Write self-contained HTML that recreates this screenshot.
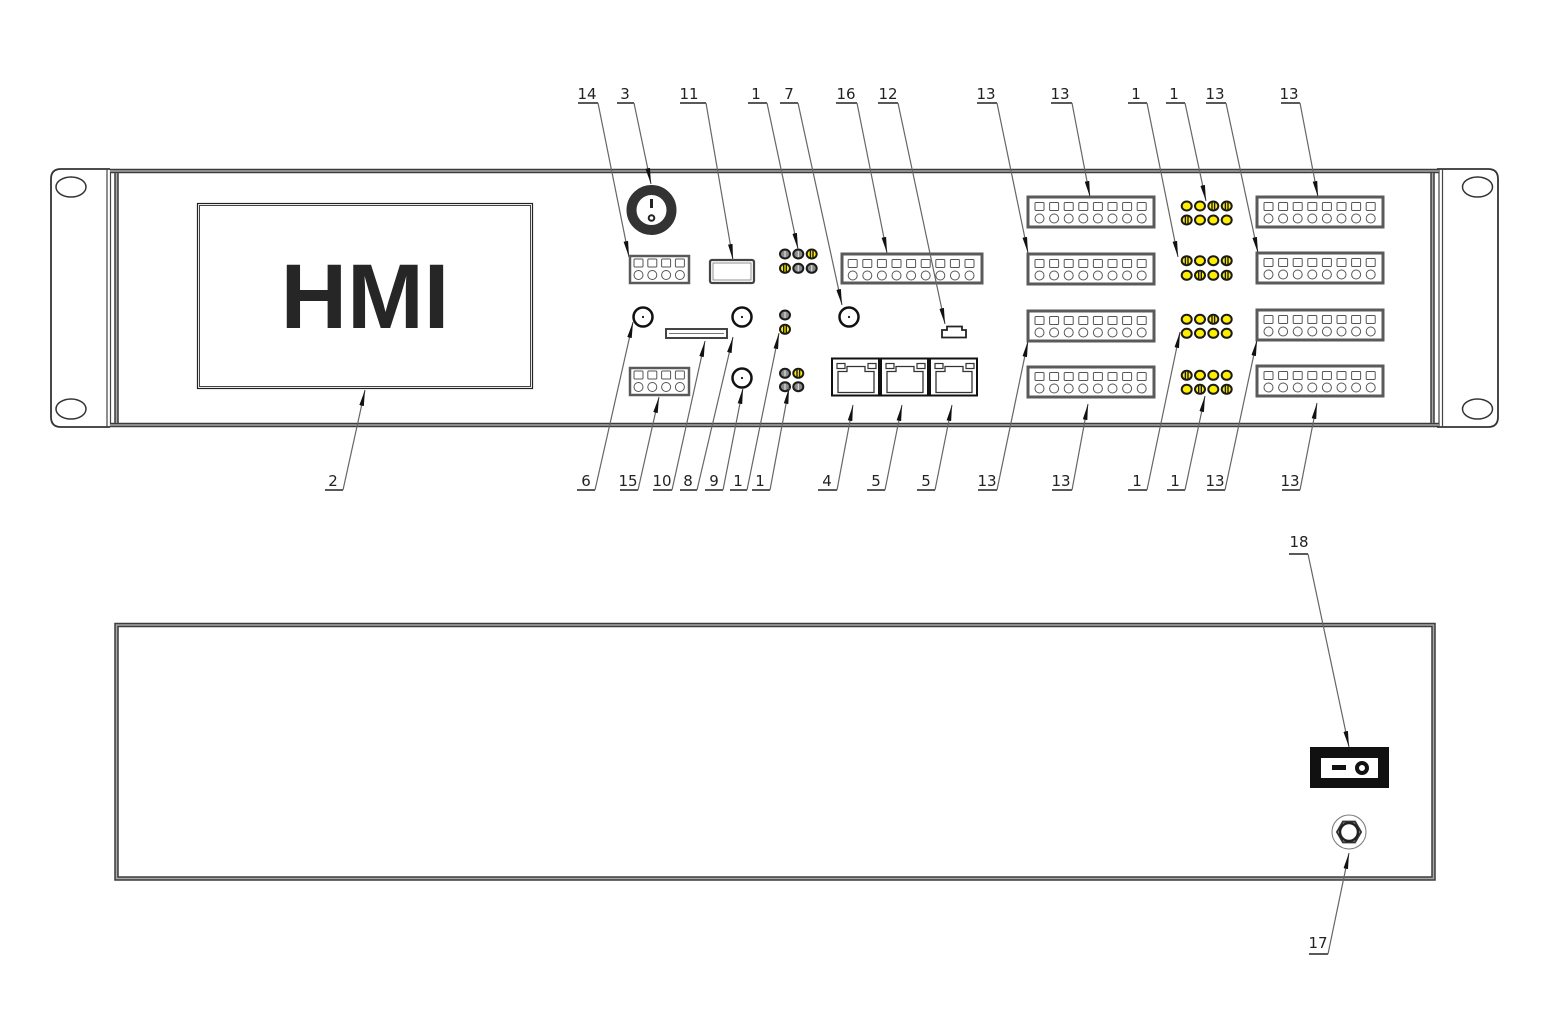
<!DOCTYPE html>
<html><head><meta charset="utf-8"><style>
html,body{margin:0;padding:0;background:#fff;}
svg{display:block;}
text{font-family:"DejaVu Sans","Liberation Sans",sans-serif;font-size:15px;fill:#222;}
</style></head><body>
<svg width="1548" height="1032" viewBox="0 0 1548 1032" xmlns="http://www.w3.org/2000/svg">
<defs>
<marker id="ar" markerUnits="userSpaceOnUse" markerWidth="17" markerHeight="6" refX="16" refY="3" orient="auto"><path d="M0,0.7 L16,3 L0,5.3 z" fill="#111"/></marker>
<g id="cell"><rect x="-4.5" y="5.5" width="9" height="8" rx="1" fill="#fff" stroke="#555" stroke-width="1"/><circle cx="0" cy="21.5" r="4.5" fill="#fff" stroke="#555" stroke-width="1"/></g>
<g id="t8"><rect x="0" y="0" width="126" height="30" fill="#fff" stroke="#5a5a5a" stroke-width="3"/>
<use href="#cell" x="11.5"/><use href="#cell" x="26.1"/><use href="#cell" x="40.7"/><use href="#cell" x="55.3"/><use href="#cell" x="69.9"/><use href="#cell" x="84.5"/><use href="#cell" x="99.1"/><use href="#cell" x="113.7"/></g>
<g id="t4"><rect x="0" y="0" width="59" height="27" fill="#fff" stroke="#5a5a5a" stroke-width="2.5"/>
<g transform="translate(0,-2.5)"><use href="#cell" x="8.5"/><use href="#cell" x="22.3"/><use href="#cell" x="36.1"/><use href="#cell" x="49.9"/></g></g>
<g id="rj"><rect x="0" y="0" width="47" height="37" fill="#fff" stroke="#111" stroke-width="2"/>
<rect x="5" y="5" width="8" height="5" fill="#fff" stroke="#333" stroke-width="1.2"/><rect x="36" y="5" width="8" height="5" fill="#fff" stroke="#333" stroke-width="1.2"/>
<path d="M6,13 H15 V8 H33 V13 H42 V34 H6 Z" fill="#fff" stroke="#333" stroke-width="1.3"/></g>
<g id="ly"><ellipse cx="0" cy="0" rx="5" ry="4.5" fill="#ffee00" stroke="#1a1a1a" stroke-width="2"/></g>
<g id="lys"><ellipse cx="0" cy="0" rx="5" ry="4.5" fill="#ffee00" stroke="#1a1a1a" stroke-width="2"/><line x1="-1.3" y1="-3.5" x2="-1.3" y2="3.5" stroke="#1a1a1a" stroke-width="1.4"/><line x1="1.3" y1="-3.5" x2="1.3" y2="3.5" stroke="#1a1a1a" stroke-width="1.4"/></g>
<g id="lg"><ellipse cx="0" cy="0" rx="5" ry="4.5" fill="#8a8a8a" stroke="#1a1a1a" stroke-width="2"/><line x1="0" y1="-3" x2="0" y2="3" stroke="#ddd" stroke-width="1.2"/></g>
<g id="bnc"><circle cx="0" cy="0" r="9.5" fill="#fff" stroke="#111" stroke-width="2.5"/><circle cx="0" cy="0" r="1.1" fill="#111"/></g>
</defs>

<!-- FRONT PANEL -->
<path d="M110,169 H61 Q51,169 51,179 V417 Q51,427 61,427 H110" fill="none" stroke="#333" stroke-width="1.8"/>
<path d="M1437,169 H1488 Q1498,169 1498,179 V417 Q1498,427 1488,427 H1437" fill="none" stroke="#333" stroke-width="1.8"/>
<ellipse cx="71" cy="187" rx="15" ry="10" fill="#fff" stroke="#333" stroke-width="1.5"/>
<ellipse cx="71" cy="409" rx="15" ry="10" fill="#fff" stroke="#333" stroke-width="1.5"/>
<ellipse cx="1477.5" cy="187" rx="15" ry="10" fill="#fff" stroke="#333" stroke-width="1.5"/>
<ellipse cx="1477.5" cy="409" rx="15" ry="10" fill="#fff" stroke="#333" stroke-width="1.5"/>
<line x1="107" y1="169" x2="107" y2="427" stroke="#444" stroke-width="1.2"/>
<line x1="110.5" y1="169" x2="110.5" y2="427" stroke="#444" stroke-width="1.2"/>
<line x1="1439" y1="169" x2="1439" y2="427" stroke="#444" stroke-width="1.2"/>
<line x1="1442.5" y1="169" x2="1442.5" y2="427" stroke="#444" stroke-width="1.2"/>
<g stroke="#3c3c3c" stroke-width="4.5" fill="none">
<line x1="110" y1="171" x2="1439" y2="171"/><line x1="110" y1="425" x2="1439" y2="425"/>
<line x1="116.5" y1="169" x2="116.5" y2="427"/><line x1="1432.5" y1="169" x2="1432.5" y2="427"/>
</g>
<g stroke="#a8a8a8" stroke-width="1.5" fill="none">
<line x1="110" y1="171" x2="1439" y2="171"/><line x1="110" y1="425" x2="1439" y2="425"/>
<line x1="116.5" y1="173" x2="116.5" y2="423"/><line x1="1432.5" y1="173" x2="1432.5" y2="423"/>
</g>

<!-- HMI -->
<rect x="197.5" y="203.5" width="335" height="185" fill="#fff" stroke="#222" stroke-width="1.2"/>
<rect x="199.5" y="205.5" width="331" height="181" fill="none" stroke="#444" stroke-width="1"/>
<text x="365" y="328" text-anchor="middle" style="font-family:'Liberation Sans',Arial,sans-serif;font-weight:bold;font-size:92px;fill:#262626;">HMI</text>

<!-- knob 3 -->
<circle cx="651.5" cy="210" r="20" fill="#fff" stroke="#333" stroke-width="10"/>
<rect x="650" y="199" width="3" height="9" fill="#222"/>
<circle cx="651.5" cy="218" r="2.8" fill="#fff" stroke="#222" stroke-width="2"/>

<use href="#t4" x="630" y="256"/>
<use href="#t4" x="630" y="368"/>

<rect x="710" y="260" width="44" height="23" rx="2" fill="#fff" stroke="#444" stroke-width="2.2"/>
<rect x="713" y="263" width="38" height="17" fill="none" stroke="#777" stroke-width="0.8"/>
<rect x="666" y="329" width="61" height="9" fill="#fff" stroke="#444" stroke-width="2"/>
<line x1="669" y1="333.5" x2="724" y2="333.5" stroke="#777" stroke-width="1"/>

<use href="#bnc" x="643" y="317"/>
<use href="#bnc" x="742" y="317"/>
<use href="#bnc" x="742" y="378"/>
<use href="#bnc" x="849" y="317"/>

<use href="#lg" x="785" y="254"/><use href="#lg" x="798.3" y="254"/><use href="#lys" x="811.7" y="254"/>
<use href="#lys" x="785" y="268.3"/><use href="#lg" x="798.3" y="268.3"/><use href="#lg" x="811.7" y="268.3"/>
<use href="#lg" x="785" y="315"/><use href="#lys" x="785" y="329.3"/>
<use href="#lg" x="785" y="373.3"/><use href="#lys" x="798.3" y="373.3"/>
<use href="#lg" x="785" y="386.7"/><use href="#lg" x="798.3" y="386.7"/>

<g transform="translate(842,254)">
<rect x="0" y="0" width="140" height="29" fill="#fff" stroke="#5a5a5a" stroke-width="3"/>
<use href="#cell" x="10.7"/><use href="#cell" x="25.3"/><use href="#cell" x="39.9"/><use href="#cell" x="54.5"/><use href="#cell" x="69.1"/><use href="#cell" x="83.7"/><use href="#cell" x="98.3"/><use href="#cell" x="112.9"/><use href="#cell" x="127.5"/>
</g>

<path d="M947,326.5 H962 V330 H966 V337.5 H942 V330 H947 Z" fill="#fff" stroke="#222" stroke-width="1.8"/>

<use href="#rj" x="832" y="358.5"/>
<use href="#rj" x="881" y="358.5"/>
<use href="#rj" x="930" y="358.5"/>

<use href="#t8" x="1028" y="197"/><use href="#t8" x="1028" y="254"/><use href="#t8" x="1028" y="311"/><use href="#t8" x="1028" y="367"/>
<use href="#t8" x="1257" y="197"/><use href="#t8" x="1257" y="253"/><use href="#t8" x="1257" y="310"/><use href="#t8" x="1257" y="366"/>

<use href="#ly" x="1186.7" y="206"/><use href="#ly" x="1200" y="206"/><use href="#lys" x="1213.3" y="206"/><use href="#lys" x="1226.7" y="206"/>
<use href="#lys" x="1186.7" y="220"/><use href="#ly" x="1200" y="220"/><use href="#ly" x="1213.3" y="220"/><use href="#ly" x="1226.7" y="220"/>
<use href="#lys" x="1186.7" y="260.7"/><use href="#ly" x="1200" y="260.7"/><use href="#ly" x="1213.3" y="260.7"/><use href="#lys" x="1226.7" y="260.7"/>
<use href="#ly" x="1186.7" y="275.3"/><use href="#lys" x="1200" y="275.3"/><use href="#ly" x="1213.3" y="275.3"/><use href="#lys" x="1226.7" y="275.3"/>
<use href="#ly" x="1186.7" y="319.3"/><use href="#ly" x="1200" y="319.3"/><use href="#lys" x="1213.3" y="319.3"/><use href="#ly" x="1226.7" y="319.3"/>
<use href="#ly" x="1186.7" y="333.3"/><use href="#ly" x="1200" y="333.3"/><use href="#ly" x="1213.3" y="333.3"/><use href="#ly" x="1226.7" y="333.3"/>
<use href="#lys" x="1186.7" y="375.3"/><use href="#ly" x="1200" y="375.3"/><use href="#ly" x="1213.3" y="375.3"/><use href="#ly" x="1226.7" y="375.3"/>
<use href="#ly" x="1186.7" y="389.3"/><use href="#lys" x="1200" y="389.3"/><use href="#ly" x="1213.3" y="389.3"/><use href="#lys" x="1226.7" y="389.3"/>

<!-- TOP LABELS -->
<g stroke="#222" stroke-width="1.5">
<line x1="578" y1="103" x2="598" y2="103"/><line x1="617" y1="103" x2="634" y2="103"/><line x1="680" y1="103" x2="706" y2="103"/>
<line x1="748" y1="103" x2="767" y2="103"/><line x1="780" y1="103" x2="798" y2="103"/><line x1="836" y1="103" x2="857" y2="103"/>
<line x1="878" y1="103" x2="898" y2="103"/><line x1="977" y1="103" x2="997" y2="103"/><line x1="1051" y1="103" x2="1072" y2="103"/>
<line x1="1128" y1="103" x2="1147" y2="103"/><line x1="1166" y1="103" x2="1185" y2="103"/><line x1="1206" y1="103" x2="1226" y2="103"/>
<line x1="1281" y1="103" x2="1300" y2="103"/>
</g>
<g stroke="#666" stroke-width="1.2" marker-end="url(#ar)">
<line x1="598" y1="103" x2="629" y2="257"/><line x1="634" y1="103" x2="651" y2="184"/><line x1="706" y1="103" x2="733" y2="260"/>
<line x1="767" y1="103" x2="798" y2="249"/><line x1="798" y1="103" x2="842" y2="305"/><line x1="857" y1="103" x2="887" y2="253"/>
<line x1="898" y1="103" x2="945" y2="324"/><line x1="997" y1="103" x2="1028" y2="253"/><line x1="1072" y1="103" x2="1090" y2="197"/>
<line x1="1147" y1="103" x2="1178" y2="257"/><line x1="1185" y1="103" x2="1206" y2="201"/><line x1="1226" y1="103" x2="1258" y2="253"/>
<line x1="1300" y1="103" x2="1318" y2="197"/>
</g>
<g text-anchor="middle">
<text x="587" y="99">14</text><text x="625" y="99">3</text><text x="689" y="99">11</text><text x="756" y="99">1</text>
<text x="789" y="99">7</text><text x="846" y="99">16</text><text x="888" y="99">12</text><text x="986" y="99">13</text>
<text x="1060" y="99">13</text><text x="1136" y="99">1</text><text x="1174" y="99">1</text><text x="1215" y="99">13</text>
<text x="1289" y="99">13</text>
</g>

<!-- BOTTOM LABELS -->
<g stroke="#222" stroke-width="1.5">
<line x1="325" y1="490" x2="343" y2="490"/><line x1="577" y1="490" x2="595" y2="490"/><line x1="620" y1="490" x2="638" y2="490"/>
<line x1="653" y1="490" x2="672" y2="490"/><line x1="680" y1="490" x2="697" y2="490"/><line x1="705" y1="490" x2="723" y2="490"/>
<line x1="730" y1="490" x2="747" y2="490"/><line x1="752" y1="490" x2="770" y2="490"/><line x1="818" y1="490" x2="837" y2="490"/>
<line x1="867" y1="490" x2="885" y2="490"/><line x1="917" y1="490" x2="935" y2="490"/><line x1="978" y1="490" x2="997" y2="490"/>
<line x1="1052" y1="490" x2="1072" y2="490"/><line x1="1128" y1="490" x2="1147" y2="490"/><line x1="1167" y1="490" x2="1185" y2="490"/>
<line x1="1207" y1="490" x2="1225" y2="490"/><line x1="1282" y1="490" x2="1300" y2="490"/>
</g>
<g stroke="#666" stroke-width="1.2" marker-end="url(#ar)">
<line x1="343" y1="490" x2="365" y2="390"/><line x1="595" y1="490" x2="633" y2="322"/><line x1="638" y1="490" x2="659" y2="397"/>
<line x1="672" y1="490" x2="705" y2="341"/><line x1="697" y1="490" x2="733" y2="337"/><line x1="723" y1="490" x2="743" y2="388"/>
<line x1="747" y1="490" x2="779" y2="333"/><line x1="770" y1="490" x2="789" y2="388"/><line x1="837" y1="490" x2="853" y2="405"/>
<line x1="885" y1="490" x2="902" y2="405"/><line x1="935" y1="490" x2="952" y2="405"/><line x1="997" y1="490" x2="1028" y2="341"/>
<line x1="1072" y1="490" x2="1088" y2="404"/><line x1="1147" y1="490" x2="1180" y2="332"/><line x1="1185" y1="490" x2="1205" y2="396"/>
<line x1="1225" y1="490" x2="1257" y2="340"/><line x1="1300" y1="490" x2="1317" y2="403"/>
</g>
<g text-anchor="middle">
<text x="333" y="486">2</text><text x="586" y="486">6</text><text x="628" y="486">15</text><text x="662" y="486">10</text>
<text x="688" y="486">8</text><text x="714" y="486">9</text><text x="738" y="486">1</text><text x="760" y="486">1</text>
<text x="827" y="486">4</text><text x="876" y="486">5</text><text x="926" y="486">5</text><text x="987" y="486">13</text>
<text x="1061" y="486">13</text><text x="1137" y="486">1</text><text x="1175" y="486">1</text><text x="1215" y="486">13</text>
<text x="1290" y="486">13</text>
</g>

<!-- REAR PANEL -->
<rect x="116.5" y="625" width="1317" height="253.5" fill="#fff" stroke="#3c3c3c" stroke-width="4.5"/>
<rect x="116.5" y="625" width="1317" height="253.5" fill="none" stroke="#a8a8a8" stroke-width="1.5"/>

<rect x="1310" y="747" width="79" height="41" fill="#111"/>
<rect x="1321" y="758" width="57" height="20" fill="#fff"/>
<rect x="1332" y="765" width="14" height="5" fill="#111"/>
<circle cx="1362" cy="768" r="5" fill="#fff" stroke="#111" stroke-width="4"/>

<circle cx="1349" cy="832" r="17" fill="#fff" stroke="#777" stroke-width="1"/>
<polygon points="1361,832 1355,842.4 1343,842.4 1337,832 1343,821.6 1355,821.6" fill="#fff" stroke="#333" stroke-width="2"/>
<circle cx="1349" cy="832" r="9" fill="#fff" stroke="#222" stroke-width="2.5"/>

<line x1="1289" y1="554" x2="1308" y2="554" stroke="#222" stroke-width="1.5"/>
<line x1="1308" y1="554" x2="1349" y2="747" stroke="#666" stroke-width="1.2" marker-end="url(#ar)"/>
<text x="1299" y="547" text-anchor="middle">18</text>
<line x1="1309" y1="954" x2="1328" y2="954" stroke="#222" stroke-width="1.5"/>
<line x1="1328" y1="954" x2="1349" y2="853" stroke="#666" stroke-width="1.2" marker-end="url(#ar)"/>
<text x="1318" y="948" text-anchor="middle">17</text>
</svg>
</body></html>
